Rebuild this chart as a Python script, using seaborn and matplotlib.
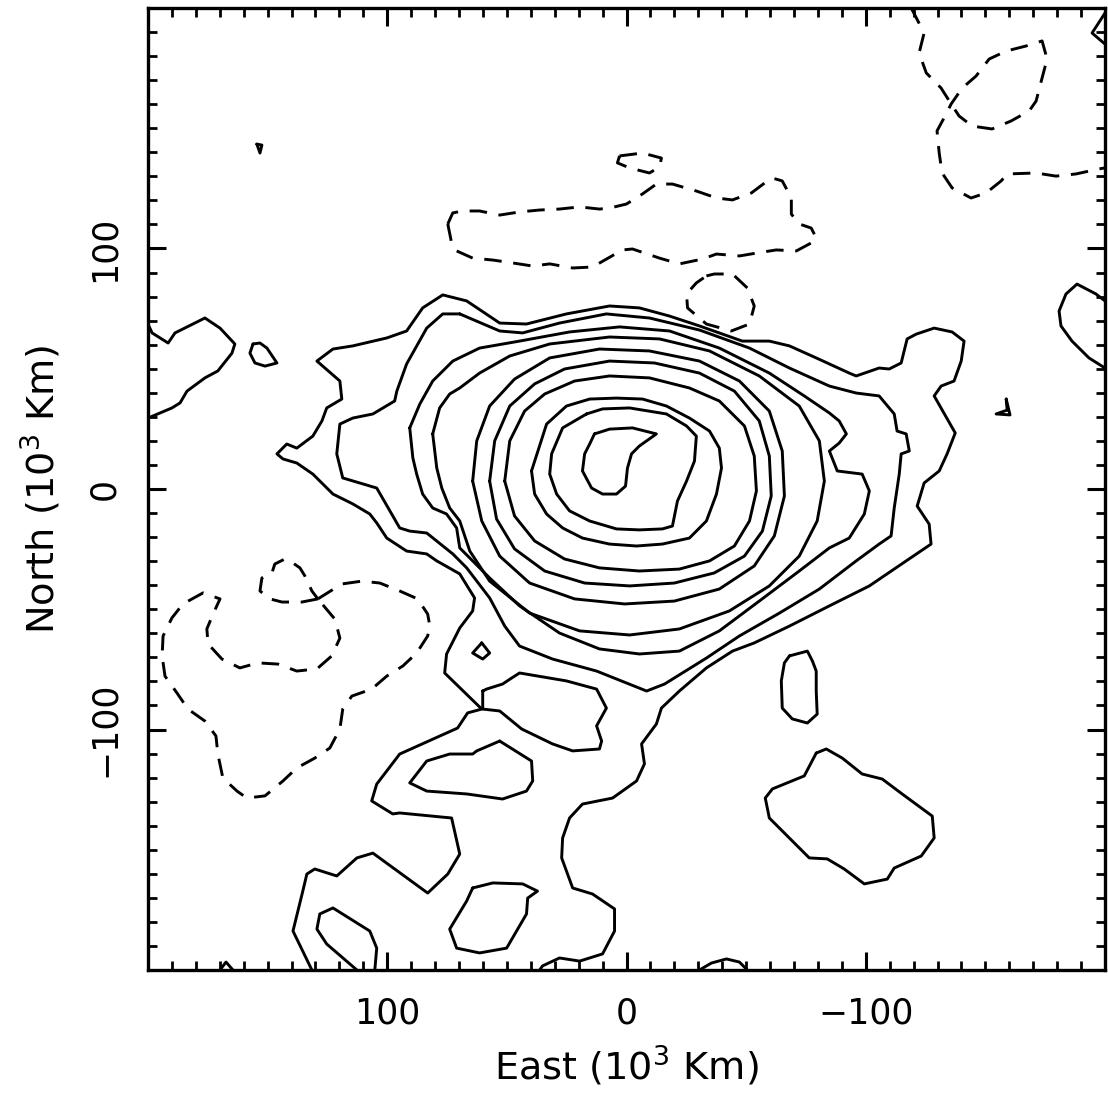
import matplotlib
matplotlib.use("Agg")
import matplotlib.pyplot as plt
import seaborn as sns
import pandas as pd
from matplotlib.ticker import FixedLocator

# ---------------- data: contour vertices (East, North) in 10^3 km -------------
ring1 = [(13.4,22.9),(7.1,24.9),(-2.5,25.4),(-12.5,22.9),(-5.4,17.9),(-2.1,14.6),(-0.4,8.7),
         (0.4,1.2),(4.2,-2.1),(10.0,-2.1),(14.6,0.4),(18.4,7.5),(17.5,14.6),(15.4,18.7)]
ring2 = [(16.7,31.2),(10.0,33.3),(-1.3,33.7),(-16.7,31.2),(-25.1,26.2),(-29.2,22.0),(-28.4,11.6),
         (-25.1,3.3),(-21.3,-5.0),(-19.2,-15.4),(-15.0,-16.6),(-5.4,-17.0),(4.2,-16.6),(15.4,-13.3),
         (23.8,-9.1),(29.2,-2.1),(32.1,6.2),(31.3,14.6),(26.7,25.4)]
ring3 = [(39.7,7.5),(33.4,27.0),(25.1,34.5),(15.4,37.4),(4.2,37.8),(-6.7,37.4),(-16.7,34.5),
         (-26.3,29.5),(-34.7,24.1),(-38.8,17.0),(-39.7,8.7),(-37.6,-2.1),(-33.4,-13.3),(-26.3,-20.4),
         (-15.0,-22.9),(-4.2,-23.7),(7.1,-22.9),(18.4,-20.4),(26.7,-16.2),(33.4,-10.4),(38.4,-2.1)]
ring4 = [(50.9,3.3),(48.8,20.0),(42.6,32.4),(34.2,39.5),(21.7,44.9),(7.1,47.0),(-9.6,46.2),
         (-26.3,42.0),(-38.8,36.6),(-49.3,26.2),(-53.4,13.7),(-54.3,-0.8),(-51.4,-13.3),(-45.1,-23.7),
         (-34.7,-29.9),(-22.1,-33.3),(-5.4,-34.1),(11.3,-32.8),(25.9,-29.1),(38.4,-21.6),(46.8,-11.2)]
ring5 = [(57.2,3.3),(55.1,20.0),(48.8,34.5),(38.4,43.7),(25.9,49.9),(7.1,53.2),(-11.7,52.4),
         (-30.5,48.2),(-45.1,40.7),(-55.5,28.3),(-59.7,13.7),(-60.5,-2.9),(-56.8,-17.5),(-49.3,-27.9),
         (-36.7,-34.9),(-20.0,-39.1),(-1.3,-40.3),(17.5,-39.1),(34.2,-34.1),(46.8,-24.9),(54.3,-12.5)]
ring6 = [(64.3,3.3),(62.6,20.0),(57.2,34.5),(46.8,45.7),(32.1,54.5),(11.3,58.2),(-9.6,57.4),
         (-30.5,53.2),(-47.2,44.9),(-59.7,32.4),(-65.1,15.8),(-66.0,-2.9),(-61.8,-19.5),(-53.4,-32.0),
         (-38.8,-41.6),(-20.0,-46.6),(0.8,-47.8),(21.7,-45.7),(40.5,-39.1),(53.0,-27.9),(60.5,-13.3)]
ring7 = [(81.0,22.9),(78.1,33.7),(73.9,39.5),(69.7,42.0),(61.4,48.2),(48.8,55.3),(32.1,60.3),
         (7.1,63.2),(-13.8,62.4),(-34.7,57.4),(-55.5,47.0),(-72.2,34.5),(-80.6,20.0),(-82.7,3.3),
         (-79.7,-13.3),(-72.2,-27.9),(-59.7,-40.3),(-43.0,-50.7),(-22.1,-58.2),(-1.3,-60.7),
         (19.6,-59.0),(40.5,-51.6),(57.2,-38.3),(65.5,-25.8),(69.7,-13.3),(73.9,-7.9),(77.2,0.4),(79.3,8.7)]
ring8 = [(90.6,25.4),(86.4,35.3),(81.0,44.9),(72.6,53.2),(61.4,58.6),(44.7,61.5),(23.8,65.3),
         (2.9,67.4),(-18.0,65.7),(-38.8,58.6),(-59.7,48.2),(-74.3,38.7),(-84.8,31.6),(-88.9,28.3),
         (-91.9,22.9),(-88.9,19.1),(-84.8,15.8),(-88.1,7.5),(-98.5,6.2),(-101.5,-0.8),(-99.4,-10.4),
         (-93.1,-20.4),(-84.8,-24.5),(-72.2,-34.1),(-55.5,-46.6),(-38.8,-59.0),(-22.1,-67.4),
         (-5.4,-68.6),(11.3,-66.5),(28.0,-59.9),(44.7,-48.6),(57.2,-37.0),(69.7,-24.5),(71.0,-16.2),
         (75.2,-10.4),(81.0,-7.9),(85.2,-2.1),(87.7,6.2),(89.3,12.9)]
ring9 = [(69.7,72.8),(76.8,72.8),(83.5,66.9),(91.9,52.0),(96.0,40.7),(96.9,36.6),(106.0,31.2),
         (114.4,29.5),(119.8,27.0),(121.1,14.6),(118.6,4.6),(111.5,2.5),(104.4,0.4),(98.9,-9.1),
         (94.8,-16.2),(90.6,-17.5),(83.5,-18.3),(72.6,-27.0),(66.8,-32.8),(57.2,-45.3),(50.9,-57.0),
         (44.7,-65.3),(30.9,-70.7),(12.5,-75.7),(-8.4,-84.0),(-15.9,-81.1),(-33.4,-70.3),(-47.2,-61.1),
         (-63.9,-51.6),(-80.6,-41.6),(-96.0,-29.9),(-105.6,-22.9),(-110.6,-19.5),(-111.9,-7.9),
         (-114.0,6.2),(-114.8,14.6),(-118.2,15.8),(-116.9,22.9),(-113.1,24.1),(-111.9,31.2),
         (-105.6,38.7),(-96.0,39.9),(-84.8,42.8),(-68.1,50.3),(-51.4,58.6),(-30.5,66.1),(-9.6,71.1),
         (8.4,72.8),(28.0,69.0),(43.4,64.9),(53.0,65.7)]
outer_solid = [(131.5,-200.0),(139.4,-183.8),(135.3,-167.2),(133.6,-160.1),(130.3,-158.0),(121.1,-160.9),
         (112.7,-153.4),(106.0,-151.4),(83.1,-168.0),(74.7,-160.1),(69.7,-151.8),(73.1,-136.8),
         (94.8,-134.7),(97.7,-135.1),(104.4,-131.0),(106.5,-129.7),(104.4,-122.7),(94.8,-110.2),
         (70.6,-99.4),(66.4,-93.1),(60.5,-91.5),(76.0,-76.5),(75.2,-68.6),(69.7,-57.8),(64.3,-50.7),
         (63.5,-45.3),(69.7,-35.3),(79.3,-29.9),(83.5,-27.0),(91.9,-25.8),(100.2,-20.4),(104.4,-14.1),
         (107.3,-10.4),(114.4,-6.2),(122.7,-2.1),(131.1,6.2),(137.8,10.8),(143.6,12.5),(146.1,14.6),
         (142.0,18.7),(137.8,17.0),(131.1,22.0),(127.3,28.3),(125.3,33.7),(119.0,37.4),(119.8,44.9),
         (129.4,53.2),(122.7,58.2),(114.4,59.5),(100.2,62.8),(91.9,65.7),(85.2,75.3),(76.8,80.7),
         (66.8,78.2),(53.0,69.0),(41.8,68.6),(25.1,72.8),(7.1,76.1),(-5.4,75.3),(-18.0,71.9),
         (-30.5,67.8),(-48.4,61.5),(-59.7,61.5),(-68.1,59.5),(-79.3,54.5),(-93.1,48.2),(-96.0,47.0),
         (-105.6,50.3),(-109.8,49.9),(-114.8,52.4),(-117.3,62.4),(-121.1,64.4),(-128.6,66.9),
         (-136.1,65.3),(-141.1,61.5),(-139.9,53.2),(-136.9,44.9),(-131.5,42.8),(-128.6,38.7),
         (-137.4,23.3),(-134.0,14.6),(-130.7,7.5),(-124.4,2.5),(-121.5,-7.1),(-126.5,-14.6),
         (-127.3,-22.9),(-116.9,-29.9),(-101.5,-40.3),(-84.8,-48.6),(-68.1,-57.0),(-53.4,-64.0),
         (-44.3,-67.4),(-33.4,-74.4),(-22.1,-84.0),(-14.6,-91.1),(-12.5,-97.7),(-6.3,-106.0),
         (-7.5,-114.3),(-4.2,-121.4),(5.8,-128.5),(18.4,-131.0),(23.8,-136.8),(26.7,-145.1),
         (27.1,-153.4),(22.5,-165.9),(14.2,-168.4),(5.0,-174.6),(5.0,-183.8),(10.0,-193.3),
         (19.6,-196.3),(28.0,-195.0),(35.1,-198.3),(36.3,-200.0)]
island_a = [(60.1,-84.0),(60.1,-91.5),(53.0,-92.3),(43.8,-99.8),(30.9,-106.0),(22.5,-108.9),(11.3,-108.1),
         (10.4,-104.8),(12.5,-98.5),(8.4,-91.1),(12.5,-83.2),(25.1,-79.8),(44.7,-76.5),(48.0,-78.6),
         (51.8,-81.1),(58.5,-83.2)]
island_diamond = [(60.5,-64.0),(57.2,-68.2),(60.1,-70.7),(64.3,-68.2)]
island_b = [(53.0,-104.8),(62.6,-108.9),(64.3,-110.2),(73.9,-110.2),(83.5,-113.1),(90.6,-122.2),
         (83.5,-125.6),(66.8,-126.8),(51.8,-128.9),(41.8,-125.6),(39.2,-121.4),(39.7,-113.1)]
island_c = [(64.3,-165.9),(55.9,-163.8),(43.4,-164.2),(37.2,-167.2),(41.3,-170.1),(41.8,-176.7),
         (50.1,-190.9),(61.4,-192.9),(71.0,-190.9),(73.9,-183.0),(66.8,-171.3)]
island_d = [(112.7,-200.0),(125.3,-189.2),(129.4,-183.0),(128.2,-176.7),(122.7,-174.2),(107.3,-183.8),
         (104.4,-190.9),(105.2,-200.0)]
island_e = [(-68.1,-69.4),(-75.6,-67.4),(-77.7,-71.5),(-79.3,-75.7),(-79.3,-84.0),(-79.7,-93.6),
         (-75.6,-97.3),(-69.3,-95.6),(-65.1,-91.1),(-64.7,-79.8),(-66.0,-72.3)]
island_f = [(-79.3,-109.8),(-83.5,-108.1),(-90.2,-111.9),(-98.5,-118.5),(-106.9,-120.6),(-115.2,-126.8),
         (-127.8,-136.0),(-128.6,-145.1),(-123.2,-152.6),(-111.9,-157.6),(-109.0,-162.2),(-99.4,-164.2),
         (-91.0,-158.0),(-83.9,-153.8),(-76.4,-153.4),(-59.7,-136.8),(-58.0,-128.5),(-61.0,-124.7),
         (-74.3,-119.3)]
edge_west = [(200.0,68.6),(198.3,64.9),(191.6,60.7),(188.7,64.9),(176.2,71.1),(169.9,66.9),(163.7,60.3),
         (164.9,56.5),(170.8,49.1),(176.2,46.2),(183.7,40.7),(186.6,35.8),(190.0,33.7),(200.0,29.5)]
blob_west = [(156.1,60.3),(153.2,60.7),(150.3,58.6),(146.1,52.4),(151.1,51.1),(155.3,52.4),(157.4,56.5)]
edge_east = [(-200.0,78.2),(-196.2,81.1),(-188.3,85.2),(-183.7,81.1),(-180.8,74.0),(-181.6,67.8),
         (-186.2,61.5),(-193.3,54.5),(-200.0,50.3)]
tiny_east = [(-158.7,37.4),(-160.3,30.8),(-154.5,31.2),(-159.1,32.8)]
corner_ne = [(-200.0,197.9),(-194.6,189.6),(-200.0,185.0)]
dot_nw = [(154.5,143.4),(153.2,139.7),(152.4,143.0)]
edge_south1 = [(-30.5,-200.0),(-35.5,-197.1),(-41.8,-195.4),(-47.2,-196.7),(-50.5,-200.0)]
edge_south2 = [(169.9,-200.0),(167.4,-196.7),(164.5,-200.0)]

neg_north = [(74.7,110.2),(72.6,114.8),(68.5,115.6),(61.4,115.6),(53.0,113.9),(44.7,115.2),(36.3,116.0),
         (28.0,116.4),(19.6,117.3),(11.3,116.4),(7.1,116.8),(0.0,118.5),(-6.7,122.7),(-12.5,126.8),
         (-19.2,126.8),(-29.2,123.9),(-37.6,121.0),(-44.3,120.2),(-52.2,123.1),(-58.9,128.1),
         (-61.0,129.3),(-65.1,128.1),(-68.9,121.0),(-68.9,114.3),(-72.2,110.2),(-77.2,108.5),
         (-79.3,104.4),(-77.2,102.3),(-71.0,99.0),(-62.6,99.4),(-54.3,98.1),(-47.2,96.9),(-37.6,97.7),
         (-31.7,95.6),(-22.1,93.6),(-13.8,96.0),(-2.5,99.8),(1.7,99.4),(14.2,92.3),(22.5,91.9),
         (32.1,93.6),(39.2,92.7),(47.6,94.0),(55.9,95.2),(64.3,96.0),(71.0,99.0),(73.1,102.3)]
neg_small = [(2.9,138.5),(-6.7,139.7),(-14.6,137.6),(-13.8,133.9),(-9.6,131.4),(-1.3,133.5),(3.8,135.6)]
neg_loop = [(-33.4,88.6),(-36.7,89.4),(-44.3,89.4),(-50.5,83.6),(-53.4,76.1),(-51.4,68.6),(-43.8,65.7),
         (-33.4,68.6),(-25.5,75.3),(-25.1,81.1),(-29.2,85.7)]
neg_ne = [(-119.0,200.0),(-124.4,189.6),(-122.3,181.3),(-125.3,173.0),(-131.5,166.7),(-135.7,160.1),
         (-139.0,155.1),(-144.5,150.9),(-152.8,149.7),(-160.7,153.0),(-168.3,157.2),(-171.2,161.3),
         (-173.7,170.9),(-175.8,178.8),(-173.7,186.3),(-167.0,184.2),(-158.7,182.1),(-151.6,178.8),
         (-146.1,171.7),(-140.3,166.7),(-135.7,160.1),(-133.6,155.9),(-129.8,148.9),(-130.7,139.7),
         (-131.9,131.4),(-136.1,125.2),(-144.0,121.0),(-150.3,123.1),(-156.6,128.1),(-159.1,131.0),
         (-171.2,131.4),(-179.5,130.1),(-187.9,131.0),(-197.5,133.1),(-200.0,133.5)]
neg_sw = [(129.0,-45.7),(119.0,-39.5),(110.6,-38.3),(103.1,-39.1),(94.8,-42.4),(87.3,-45.7),(83.1,-52.0),
         (82.2,-57.0),(83.1,-61.1),(87.7,-68.2),(93.5,-73.6),(100.2,-77.8),(106.5,-83.2),(114.8,-86.1),
         (118.6,-91.5),(119.8,-99.8),(124.0,-107.7),(130.3,-111.9),(137.8,-116.0),(143.6,-121.4),
         (151.1,-127.6),(158.7,-128.5),(162.8,-125.6),(168.7,-120.2),(170.8,-110.2),(171.6,-102.7),
         (176.2,-96.5),(183.3,-91.5),(187.9,-84.8),(192.9,-77.8),(194.1,-69.4),(193.7,-61.1),
         (190.0,-53.6),(185.4,-47.8),(177.0,-43.2),(169.9,-45.7),(172.8,-52.0),(175.4,-58.2),
         (174.9,-64.4),(169.1,-70.7),(161.6,-74.4),(154.1,-72.3),(145.7,-72.8),(137.8,-75.7),
         (129.4,-74.8),(123.2,-69.4),(119.8,-62.0),(121.9,-54.1),(129.0,-45.7)]
neg_sw_small = [(129.0,-45.7),(135.7,-47.0),(144.0,-47.0),(149.0,-45.7),(153.2,-42.4),(152.4,-37.0),
         (148.2,-34.9),(147.0,-31.2),(142.8,-29.1),(139.4,-30.8),(136.5,-32.8),(134.4,-36.2),
         (131.5,-42.4),(129.0,-45.7)]

x_major = [100, 0, -100]
x_label = "East (10$^3$ Km)"
y_label = "North (10$^3$ Km)"

closed_solid = [ring1, ring2, ring3, ring4, ring5, ring6, ring7, ring8, ring9, island_a,
                island_diamond, island_b, island_c, island_e, island_f, blob_west, tiny_east, dot_nw]
open_solid = [outer_solid, island_d, edge_west, edge_east, corner_ne, edge_south1, edge_south2]
closed_dashed = [neg_north, neg_small, neg_loop]
open_dashed = [neg_ne, neg_sw, neg_sw_small]

# ---------------- style ----------------
sns.set_style("ticks", {"xtick.direction": "in", "ytick.direction": "in",
                        "axes.edgecolor": "black", "text.color": "black",
                        "axes.labelcolor": "black", "xtick.color": "black",
                        "ytick.color": "black"})
plt.rcParams["font.family"] = ["DejaVu Sans"]

fig = plt.figure(figsize=(11.08, 10.96), dpi=100)
ax = fig.add_axes([148 / 1108, 1 - 970 / 1096, 957 / 1108, 962 / 1096])

LW = 2.1
DASH = (0, (6, 4))


def draw(pts, closed, ls):
    if closed:
        pts = list(pts) + [pts[0]]
    df = pd.DataFrame(pts, columns=["east", "north"])
    sns.lineplot(data=df, x="east", y="north", sort=False, estimator=None, ax=ax,
                 color="black", lw=LW, linestyle=ls, solid_joinstyle="round",
                 dash_capstyle="butt")


for c in closed_solid:
    draw(c, True, "-")
for c in open_solid:
    draw(c, False, "-")
for c in closed_dashed:
    draw(c, True, DASH)
for c in open_dashed:
    draw(c, False, DASH)

ax.set_xlim(200, -200)
ax.set_ylim(-200, 200)

minor = [v for v in range(-190, 200, 10) if v % 100 != 0]
ax.xaxis.set_major_locator(FixedLocator(x_major))
ax.yaxis.set_major_locator(FixedLocator(x_major))
ax.xaxis.set_minor_locator(FixedLocator(minor))
ax.yaxis.set_minor_locator(FixedLocator(minor))
ax.tick_params(which="major", direction="in", length=13, width=2.2, top=True, right=True,
               labelsize=25, pad=19, color="black", labelcolor="black")
ax.tick_params(which="minor", direction="in", length=6.5, width=2.0, top=True, right=True,
               color="black")
ax.tick_params(axis="y", labelrotation=90)
for lab in ax.get_yticklabels():
    lab.set_va("center")

for s in ax.spines.values():
    s.set_linewidth(2.4)
    s.set_color("black")

ax.set_xlabel(x_label, fontsize=27.5, labelpad=10, color="black")
ax.set_ylabel(y_label, fontsize=27.5, labelpad=18, color="black")

fig.savefig("out.png", dpi=100, facecolor="white")
